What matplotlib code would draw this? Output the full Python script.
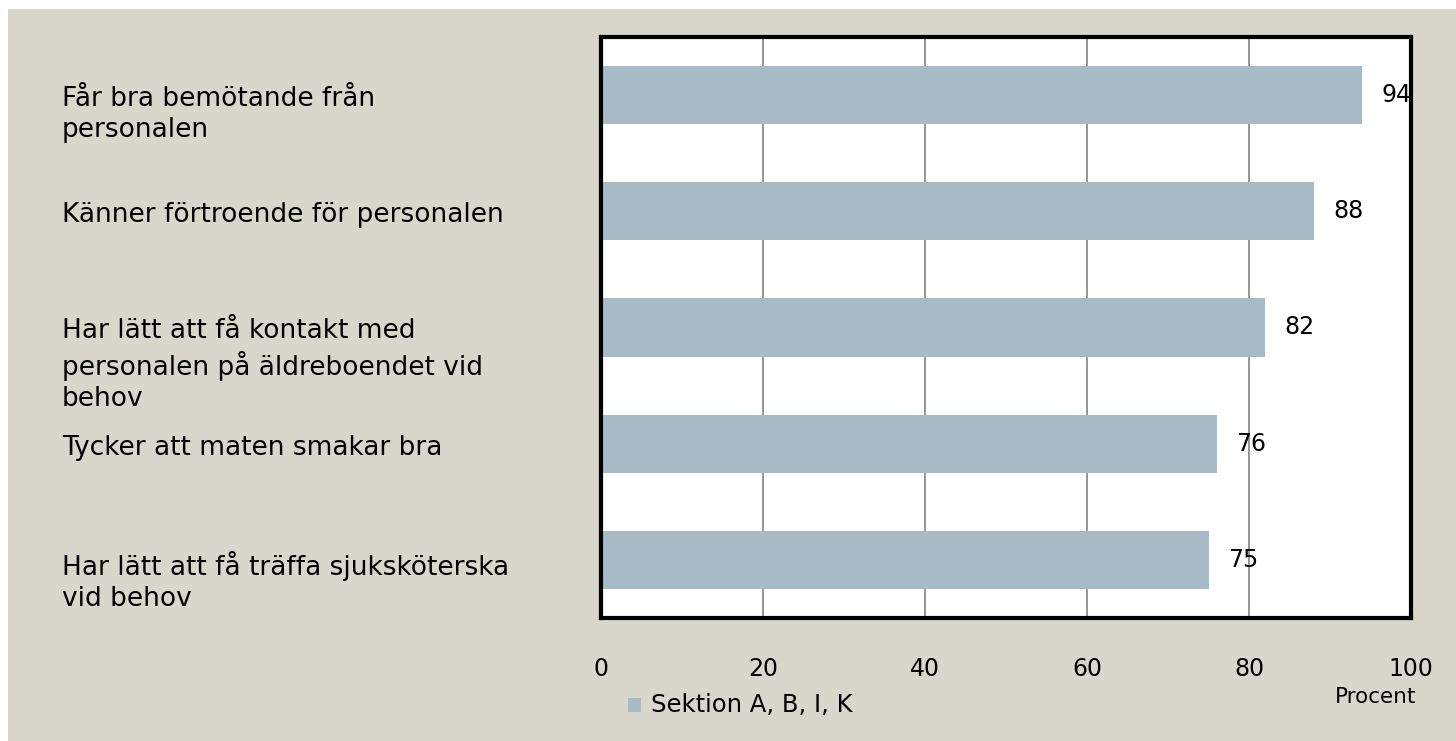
import numpy as np
import matplotlib
matplotlib.use("Agg")
import matplotlib.pyplot as plt
import matplotlib.transforms as mtransforms
from matplotlib.patches import Rectangle

# data
labels = [
    "Får bra bemötande från\npersonalen",
    "Känner förtroende för personalen",
    "Har lätt att få kontakt med\npersonalen på äldreboendet vid\nbehov",
    "Tycker att maten smakar bra",
    "Har lätt att få träffa sjuksköterska\nvid behov",
]
values = [94, 88, 82, 76, 75]
ticks = [0, 20, 40, 60, 80, 100]
series_name = "Sektion A, B, I, K"

bg = "#D9D7CB"
barcol = "#A7BBC6"
plt.rcParams['font.family'] = ['DejaVu Sans']

W, H = 1456, 741
fig = plt.figure(figsize=(W / 100, H / 100), dpi=100, facecolor="white")
fig.patches.append(Rectangle((8 / W, 0), 1 - 8 / W, 1 - 9 / H, transform=fig.transFigure,
                             facecolor=bg, edgecolor="none", zorder=-10))

ax = fig.add_axes([601 / W, 1 - 618 / H, (1411 - 601) / W, (618 - 37) / H])
ax.set_zorder(1)
ax.set_facecolor("white")
y = np.arange(len(values))
ax.barh(y, values, height=0.5, color=barcol, zorder=2)
ax.set_xlim(0, 100)
ax.set_ylim(len(values) - 0.5, -0.5)
ax.set_xticks(ticks)
ax.set_yticks([])
ax.grid(axis="x", color="#8c8c8c", linewidth=1.3, zorder=1)
ax.tick_params(axis="x", length=0, pad=28, labelsize=17)
for s in ax.spines.values():
    s.set_linewidth(3)
    s.set_color("black")

for i, v in enumerate(values):
    ax.annotate(str(v), (v, i), xytext=(14, 0), textcoords="offset points",
                ha="left", va="center", fontsize=17, zorder=5, annotation_clip=False)

# category labels, first line level with the bar
trans = mtransforms.blended_transform_factory(fig.transFigure, ax.transData)
trans = mtransforms.offset_copy(trans, fig=fig, x=0, y=9, units="dots")
for i, lab in enumerate(labels):
    fig.text(62 / W, i, lab, transform=trans, ha="left", va="top",
             fontsize=19, linespacing=1.26)

# legend and axis title
fig.patches.append(Rectangle((628 / W, 1 - 712 / H), 13 / W, 14 / H, transform=fig.transFigure,
                             facecolor=barcol, edgecolor="none", zorder=2))
fig.text(651 / W, 1 - 705 / H, series_name, ha="left", va="center", fontsize=17.5)
fig.text(1376 / W, 1 - 697 / H, "Procent", ha="center", va="center", fontsize=15.5)

fig.savefig("out.png", dpi=100, facecolor=fig.get_facecolor())
